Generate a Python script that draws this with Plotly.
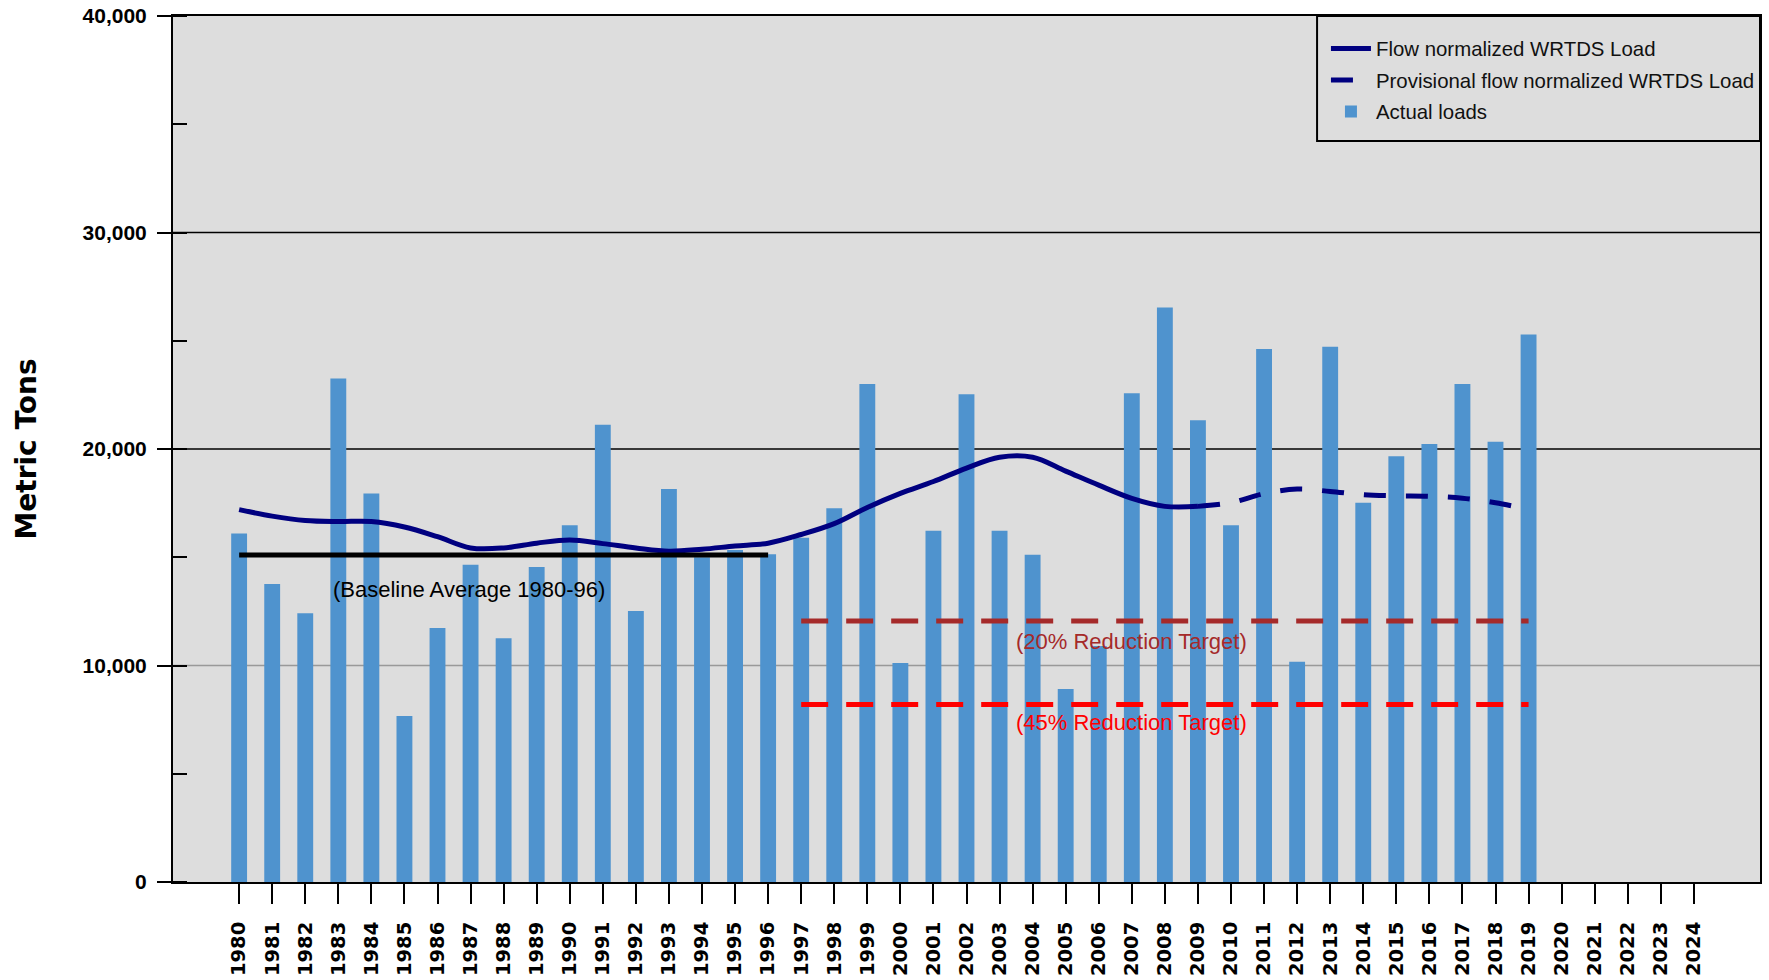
import plotly.graph_objects as go

# ---------------- data ----------------
years = list(range(1980, 2020))
actual_loads = [16100, 13770, 12410, 23260, 17940, 7670, 11730, 14650, 11260, 14550,
                16480, 21120, 12520, 18150, 15000, 15330, 15140, 15900, 17260, 23000,
                10120, 16220, 22530, 16220, 15120, 8920, 10900, 22580, 26540, 21330,
                16480, 24620, 10170, 24720, 17520, 19660, 20230, 23000, 20340, 25290]

fn_years = list(range(1980, 2010))
flow_normalized = [17200, 16900, 16700, 16650, 16650, 16400, 15950, 15430, 15430, 15650,
                   15800, 15630, 15430, 15280, 15370, 15520, 15650, 16050, 16550, 17300,
                   17950, 18500, 19120, 19620, 19620, 18980, 18330, 17720, 17350, 17350]

prov_years = list(range(2009, 2020))
provisional = [17350, 17520, 17940, 18150, 18040, 17890, 17840, 17820, 17730, 17520, 17210]

baseline_years = [1980, 1996]
baseline_value = 15100
target_years = [1997, 2019]
target20_value = 12050
target45_value = 8200

axis_years = list(range(1980, 2025))
y_ticks = [0, 10000, 20000, 30000, 40000]
y_ticktext = ["0", "10,000", "20,000", "30,000", "40,000"]
grid_black = [20000, 30000]
grid_grey = [10000]

SANS = "Liberation Sans, Arial, sans-serif"
BOLD = "DejaVu Sans, Arial, sans-serif"

fig = go.Figure()

fig.add_trace(go.Bar(
    x=years, y=actual_loads, name="Actual loads", width=0.48, legendrank=3,
    legendgroup="c", marker=dict(color="#4F93CE", line=dict(width=0))))
fig.add_trace(go.Scatter(
    x=fn_years, y=flow_normalized, mode="lines", name="Flow normalized WRTDS Load",
    legendrank=1, legendgroup="a",
    line=dict(color="#000080", width=5, shape="spline")))
fig.add_trace(go.Scatter(
    x=prov_years, y=provisional, mode="lines", name="Provisional flow normalized WRTDS Load",
    legendrank=2, legendgroup="b",
    line=dict(color="#000080", width=5, dash="22px,20px", shape="spline")))
fig.add_trace(go.Scatter(
    x=baseline_years, y=[baseline_value] * 2, mode="lines", showlegend=False,
    line=dict(color="black", width=5)))
fig.add_trace(go.Scatter(
    x=target_years, y=[target20_value] * 2, mode="lines", showlegend=False,
    line=dict(color="#A52A2A", width=5, dash="27px,18px")))
fig.add_trace(go.Scatter(
    x=target_years, y=[target45_value] * 2, mode="lines", showlegend=False,
    line=dict(color="#FF0000", width=5, dash="27px,18px")))

shapes = []
for g in grid_black:
    shapes.append(dict(type="line", xref="paper", x0=0, x1=1, yref="y", y0=g, y1=g,
                       line=dict(color="black", width=1.5), layer="below"))
for g in grid_grey:
    shapes.append(dict(type="line", xref="paper", x0=0, x1=1, yref="y", y0=g, y1=g,
                       line=dict(color="#999999", width=1.5), layer="below"))
# legend frame
shapes.append(dict(type="rect", xref="paper", yref="paper", x0=0.7209, x1=1.0, y0=0.8557, y1=1.0,
                   line=dict(color="black", width=2), fillcolor="rgba(0,0,0,0)", layer="above"))

annotations = [
    dict(x=1986.95, y=13490, xref="x", yref="y", text="(Baseline Average 1980-96)",
         showarrow=False, font=dict(family=SANS, size=22, color="black")),
    dict(x=2007, y=11130, xref="x", yref="y", text="(20% Reduction Target)",
         showarrow=False, font=dict(family=SANS, size=22, color="#A52A2A")),
    dict(x=2007, y=7390, xref="x", yref="y", text="(45% Reduction Target)",
         showarrow=False, font=dict(family=SANS, size=22, color="#FF0000")),
]

fig.update_layout(
    width=1769, height=980,
    margin=dict(l=173, r=9, t=16, b=98, autoexpand=False),
    paper_bgcolor="white",
    plot_bgcolor="#DDDDDD",
    shapes=shapes,
    annotations=annotations,
    showlegend=True,
    legend=dict(x=0.7265, y=0.9854, xanchor="left", yanchor="top",
                bgcolor="rgba(0,0,0,0)", borderwidth=0,
                font=dict(family=SANS, size=20.4, color="#111111"),
                itemwidth=40, tracegroupgap=2, traceorder="grouped"),
    xaxis=dict(range=[1978, 2026], tickmode="array", tickvals=axis_years,
               ticktext=[str(y) for y in axis_years], tickangle=-90,
               ticks="outside", ticklen=20, tickwidth=1.5, tickcolor="black",
               ticklabelstandoff=10, automargin=False,
               tickfont=dict(family=BOLD, size=19.5, color="black", weight="bold"),
               showgrid=False, zeroline=False,
               showline=True, linecolor="black", linewidth=2, mirror=True),
    yaxis=dict(range=[0, 40000], tickmode="array", tickvals=y_ticks, ticktext=y_ticktext,
               ticks="outside", ticklen=14, tickwidth=1.5, tickcolor="black",
               ticklabelstandoff=6, automargin=False,
               tickfont=dict(family=SANS, size=21, color="black", weight="bold"),
               minor=dict(ticks="inside", ticklen=14, dtick=5000, tick0=5000,
                          tickcolor="black", tickwidth=1.5, showgrid=False),
               showgrid=False, zeroline=False,
               showline=True, linecolor="black", linewidth=2, mirror=True,
               title=dict(text="Metric Tons", standoff=38,
                          font=dict(family=BOLD, size=28, color="black", weight="bold"))),
)

fig.write_html("out.html")
